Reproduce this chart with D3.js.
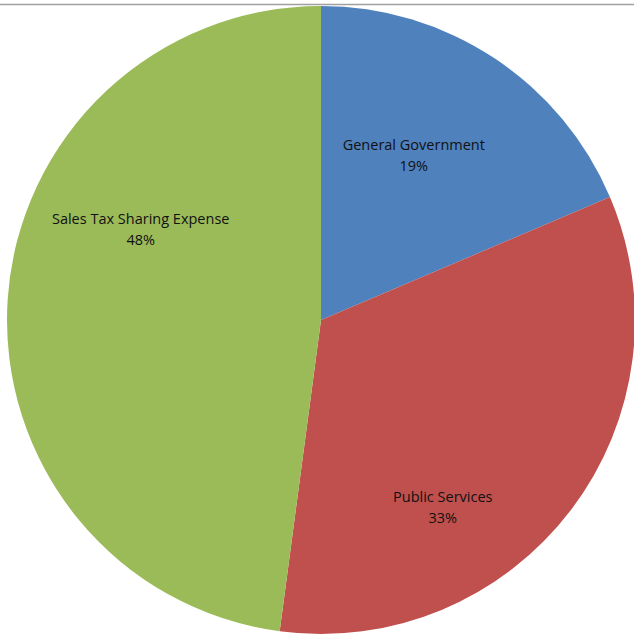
<!DOCTYPE html>
<html>
<head>
<meta charset="utf-8">
<script src="https://cdn.jsdelivr.net/npm/d3@7"></script>
<style>
  body { margin: 0; background: #fff; }
  svg { display: block; }
</style>
</head>
<body>
<div id="chart"></div>
<script>
const categories = ['General Government', 'Public Services', 'Sales Tax Sharing Expense'];
const shares = [18.6, 33.5, 47.9];
const percentLabels = ['19%', '33%', '48%'];
const colors = ['#4F81BD', '#C0504D', '#9BBB59'];
// where Excel put each label: angle (deg from 12 o'clock) and distance from centre
const labelAngles = [29.4, 146.9, 296.8];
const labelRadii = [189, 223, 202];

const WIDTH = 634, HEIGHT = 636;
const CX = 321, CY = 320, R = 314;

const svg = d3.select('#chart')
  .append('svg')
    .attr('width', WIDTH)
    .attr('height', HEIGHT);

// thin grey rule along the top
svg.append('line')
  .attr('x1', 0).attr('x2', WIDTH)
  .attr('y1', 4.5).attr('y2', 4.5)
  .attr('stroke', '#a0a0a0')
  .attr('stroke-width', 1.5);

const g = svg.append('g')
  .attr('transform', `translate(${CX}, ${CY})`);

const pie = d3.pie().sort(null).value(d => d);
const arc = d3.arc().innerRadius(0).outerRadius(R);
const arcs = pie(shares);

g.selectAll('path')
  .data(arcs)
  .enter().append('path')
    .attr('d', arc)
    .attr('fill', (d, i) => colors[i]);

const labels = g.selectAll('text.lbl')
  .data(arcs)
  .enter().append('text')
    .attr('class', 'lbl')
    .attr('text-anchor', 'middle')
    .attr('font-family', 'Open Sans, sans-serif')
    .attr('font-size', 14.5)
    .attr('fill', '#111')
    .attr('transform', (d, i) => {
      const p = d3.pointRadial(labelAngles[i] * Math.PI / 180, labelRadii[i]);
      return `translate(${p[0]}, ${p[1]})`;
    });

labels.append('tspan')
  .attr('x', 0).attr('y', -5)
  .text((d, i) => categories[i]);

labels.append('tspan')
  .attr('x', 0).attr('y', 16)
  .text((d, i) => percentLabels[i]);
</script>
</body>
</html>
